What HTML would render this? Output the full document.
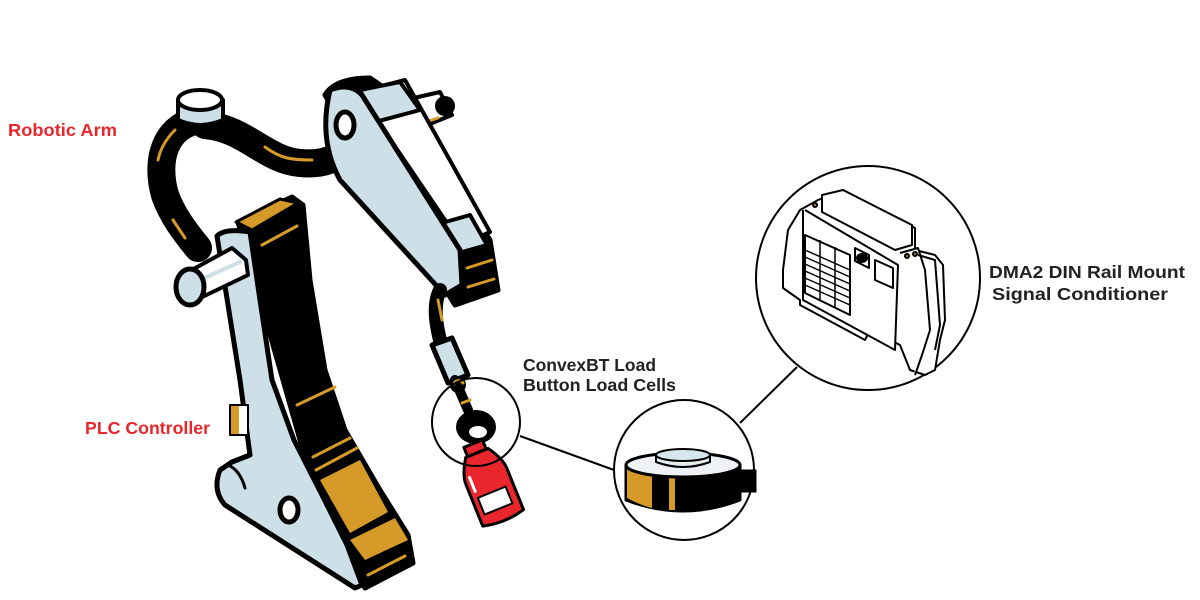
<!DOCTYPE html>
<html><head><meta charset="utf-8"><style>
html,body{margin:0;padding:0;background:#fff;}
svg{display:block}
text{font-family:"Liberation Sans",sans-serif;font-weight:bold;font-size:17.5px}
</style></head><body>
<svg width="1200" height="600" viewBox="0 0 1200 600" xmlns="http://www.w3.org/2000/svg">
<g stroke-linejoin="round" stroke-linecap="round">
<!-- tube -->
<path d="M200,120 C165,125 155,160 165,195 C172,215 185,232 198,248" fill="none" stroke="#000" stroke-width="28"/>
<path d="M205,125 C245,128 265,160 300,163 C320,165 335,160 345,150" fill="none" stroke="#000" stroke-width="28"/>
<path d="M175,130 C165,140 160,150 158,160" fill="none" stroke="#d69a28" stroke-width="3"/>
<path d="M265,147 C280,158 290,160 312,160" fill="none" stroke="#d69a28" stroke-width="3"/>
<path d="M173,220 L185,238" fill="none" stroke="#d69a28" stroke-width="3"/>
<!-- cap -->
<path d="M178,100 L178,120 Q200,130 223,120 L223,100 Z" fill="#cde0e8" stroke="#000" stroke-width="4"/>
<ellipse cx="200" cy="100" rx="22" ry="10" fill="#fff" stroke="#000" stroke-width="4"/>
<!-- end pin right -->
<path d="M405,100 L440,92 L452,115 L420,128 Z" fill="#fff" stroke="#000" stroke-width="4"/>
<circle cx="445" cy="106" r="10" fill="#000"/>
<path d="M420,124 L438,118" stroke="#d69a28" stroke-width="3"/>
<!-- upper arm -->
<path d="M325,95 Q335,78 370,78 L395,95 L490,240 L498,290 L455,305 Z" fill="#000" stroke="#000" stroke-width="5"/>
<path d="M358,92 L405,80 L490,232 L462,245 Z" fill="#fff" stroke="#000" stroke-width="4"/>
<path d="M360,90 L400,82 L420,110 L375,122 Z" fill="#cde0e8" stroke="#000" stroke-width="4"/>
<path d="M435,225 L470,215 L487,245 L455,254 Z" fill="#cde0e8" stroke="#000" stroke-width="4"/>
<path d="M330,90 Q350,82 362,95 L460,250 L462,285 L445,295 L340,180 Q318,140 330,90 Z" fill="#cde0e8" stroke="#000" stroke-width="5"/>
<ellipse cx="345" cy="125" rx="9" ry="13" fill="#fff" stroke="#000" stroke-width="5"/>
<path d="M467,268 L492,260 M468,287 L494,279" stroke="#d69a28" stroke-width="3"/>
<!-- base black side -->
<path d="M238,222 L292,197 L303,205 L310,280 L325,370 L345,430 L380,490 L408,535 L413,563 L365,588 L320,510 Z" fill="#000" stroke="#000" stroke-width="5"/>
<path d="M236,222 L280,199 L298,203 L252,230 Z" fill="#d69a28" stroke="#000" stroke-width="3"/>
<path d="M262,245 L297,226" stroke="#d69a28" stroke-width="3"/>
<path d="M297,405 L335,387 M313,457 L350,438 M316,470 L357,448" stroke="#d69a28" stroke-width="3"/>
<path d="M320,480 L360,460 L388,512 L350,533 Z" fill="#d69a28"/>
<path d="M350,540 L395,518 L408,540 L365,560 Z" fill="#d69a28"/>
<path d="M368,575 L405,556" stroke="#d69a28" stroke-width="3"/>
<!-- front face -->
<path d="M217,236 Q225,228 250,232 L260,300 L272,380 L294,440 L322,495 L347,545 L362,585 L355,588 L225,505 Q212,490 220,470 L232,462 L250,455 L240,380 Z" fill="#cde0e8" stroke="#000" stroke-width="5"/>
<path d="M228,465 Q240,470 245,488" fill="none" stroke="#000" stroke-width="3"/>
<ellipse cx="289" cy="510" rx="9" ry="12" fill="#fff" stroke="#000" stroke-width="5"/>
<!-- pin -->
<path d="M188,272 L232,248 L246,260 L248,275 L196,300 Z" fill="#fff" stroke="#000" stroke-width="4"/>
<path d="M200,280 L240,262" stroke="#cde0e8" stroke-width="4"/>
<ellipse cx="190" cy="287" rx="14" ry="18" fill="#cde0e8" stroke="#000" stroke-width="5"/>
<!-- PLC -->
<rect x="230" y="405" width="18" height="30" fill="#fff" stroke="#000" stroke-width="2"/>
<rect x="231" y="406" width="8" height="28" fill="#d69a28"/>
<!-- wrist -->
<path d="M440,290 C430,310 440,340 445,360" fill="none" stroke="#000" stroke-width="14"/>
<path d="M438,300 L442,320" stroke="#d69a28" stroke-width="3"/>
<path d="M432,345 L452,338 L468,375 L448,383 Z" fill="#cde0e8" stroke="#000" stroke-width="5"/>
<path d="M455,380 L468,410" stroke="#000" stroke-width="10"/>
<circle cx="458" cy="385" r="8" fill="#000"/>
<path d="M454,384 A5,5 0 0 1 463,383" fill="none" stroke="#d69a28" stroke-width="3"/>
<path d="M462,403 L470,400" stroke="#d69a28" stroke-width="3"/>
<ellipse cx="476" cy="427" rx="20" ry="17" fill="#000"/>
<ellipse cx="478" cy="432" rx="10" ry="7" fill="#fff" stroke="#000" stroke-width="2"/>
<!-- bottle -->
<g transform="rotate(-22 490 480)">
<rect x="478" y="440" width="20" height="10" fill="#e8262b" stroke="#000" stroke-width="3"/>
<path d="M476,450 L500,450 Q510,465 510,475 L510,520 Q488,526 466,520 L466,475 Q466,465 476,450 Z" fill="#e8262b" stroke="#000" stroke-width="3"/>
<rect x="472" y="492" width="30" height="18" fill="#fff" stroke="#000" stroke-width="2"/>
<path d="M472,470 L472,485" stroke="#fff" stroke-width="3"/>
</g>
</g>
<!-- circles and lines -->
<g fill="none" stroke="#000" stroke-width="2">
<circle cx="476" cy="422" r="44"/>
<line x1="520" y1="436" x2="614" y2="470"/>
<circle cx="684" cy="470" r="70" fill="#fff"/>
<line x1="740" y1="423" x2="797" y2="367"/>
<circle cx="868" cy="278" r="112" fill="#fff"/>
</g>
<!-- load cell -->
<g stroke="#000" stroke-linejoin="round">
<path d="M626,465 L626,500 Q683,522 740,500 L740,465 Z" fill="#000" stroke-width="3"/>
<path d="M627,468 L627,498 Q640,505 652,508 L652,472 Z" fill="#d69a28" stroke="none"/>
<rect x="669" y="478" width="6" height="32" fill="#d69a28" stroke="none"/>
<rect x="738" y="470" width="18" height="22" fill="#000"/>
<ellipse cx="683" cy="465" rx="57" ry="12" fill="#eef2f4" stroke-width="3"/>
<path d="M656,455 L656,462 Q683,472 710,462 L710,455" fill="#e6eef2" stroke-width="2"/>
<ellipse cx="683" cy="455" rx="27" ry="6" fill="#d6e6ee" stroke-width="2"/>
</g>
<!-- DIN module -->
<g fill="#fff" stroke="#000" stroke-width="2" stroke-linejoin="round">
<path d="M818,200 L843,190 L915,228 L915,250 L935,255 L943,265 L945,320 L940,340 L935,370 L925,375 L910,370 L900,345 L870,330 L865,340 L800,305 L800,300 L783,288 L783,270 L788,230 L800,210 Z"/>
<path d="M803,210 L803,300 L895,350 L898,265 L805,210"/>
<path d="M805,235 L850,255 L850,315 L805,293 Z"/>
<path d="M820,240 L820,300 M835,247 L835,308 M805,250 L850,270 M805,257 L850,277 M805,264 L850,284 M805,271 L850,291 M805,278 L850,298 M805,285 L850,305" stroke-width="1.5"/>
<path d="M855,248 L869,255 L869,268 L855,261 Z"/>
<ellipse cx="862" cy="258" rx="5" ry="4" fill="#000"/>
<path d="M875,260 L893,268 L893,288 L875,280 Z"/>
<path d="M822,195 L843,190 L912,225 L912,245 L895,250 L822,212 Z"/>
<path d="M900,253 L918,248 L925,270 L930,330 L922,355 L915,375 M918,255 L935,260 L940,325 L935,350"/>
<circle cx="907" cy="256" r="2" fill="#d69a28"/><circle cx="915" cy="254" r="2" fill="#d69a28"/>
<circle cx="815" cy="205" r="2" fill="#d69a28"/>
</g>
<!-- labels -->
<text x="8" y="136" fill="#e8262b" textLength="109" lengthAdjust="spacingAndGlyphs">Robotic Arm</text>
<text x="85" y="434" fill="#e8262b" textLength="125" lengthAdjust="spacingAndGlyphs">PLC Controller</text>
<text x="523" y="371" fill="#222" textLength="133" lengthAdjust="spacingAndGlyphs">ConvexBT Load</text>
<text x="523" y="391" fill="#222" textLength="153" lengthAdjust="spacingAndGlyphs">Button Load Cells</text>
<text x="989" y="278" fill="#222" textLength="196" lengthAdjust="spacingAndGlyphs">DMA2 DIN Rail Mount</text>
<text x="992" y="300" fill="#222" textLength="176" lengthAdjust="spacingAndGlyphs">Signal Conditioner</text>
</svg>
</body></html>
